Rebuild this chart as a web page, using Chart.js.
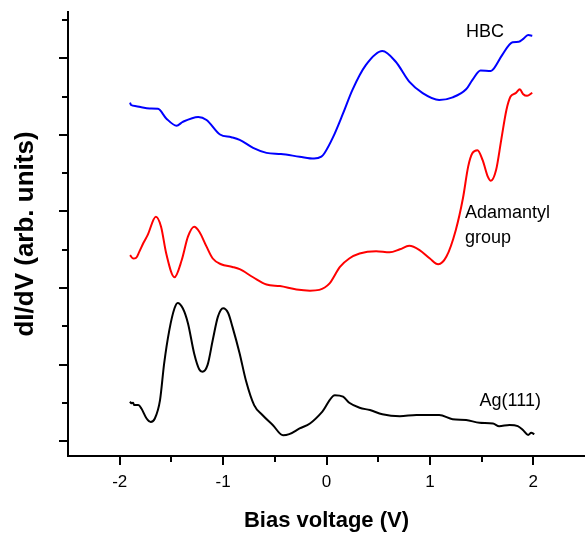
<!DOCTYPE html>
<html>
<head>
<meta charset="utf-8">
<script src="https://cdn.jsdelivr.net/npm/chart.js@4/dist/chart.umd.min.js"></script>
<style>
  html, body { margin: 0; padding: 0; background: #fff; overflow: hidden; }
  canvas { display: block; }
</style>
</head>
<body>
<canvas id="chart-sts" width="585" height="535"></canvas>
<script>
// HBC (blue)
const hbcX = [-1.90,-1.89,-1.84,-1.79,-1.71,-1.63,-1.55,-1.45,-1.39,-1.24,-1.16,-1.03,-0.92,-0.84,-0.71,-0.58,-0.44,-0.26,-0.12,-0.05,-0.02,0.06,0.16,0.25,0.38,0.54,0.67,0.80,0.93,1.09,1.22,1.35,1.41,1.49,1.59,1.62,1.70,1.80,1.86,1.90,1.95,1.99];
const hbcY = [8.84,8.78,8.75,8.72,8.69,8.68,8.43,8.24,8.34,8.47,8.39,8.01,7.94,7.87,7.66,7.53,7.50,7.43,7.38,7.43,7.52,7.92,8.56,9.17,9.82,10.19,9.91,9.39,9.09,8.91,8.98,9.19,9.43,9.68,9.67,9.74,10.09,10.42,10.43,10.50,10.61,10.59];

// Adamantyl group (red)
const adaX = [-1.90,-1.87,-1.84,-1.81,-1.77,-1.73,-1.65,-1.60,-1.55,-1.47,-1.40,-1.34,-1.28,-1.23,-1.16,-1.10,-1.02,-0.91,-0.84,-0.71,-0.58,-0.45,-0.29,-0.16,-0.07,0.03,0.13,0.22,0.32,0.48,0.61,0.71,0.80,0.90,1.00,1.08,1.16,1.25,1.32,1.37,1.41,1.46,1.51,1.56,1.59,1.64,1.69,1.74,1.78,1.83,1.87,1.90,1.94,1.99];
const adaY = [4.86,4.77,4.79,4.95,5.18,5.38,5.86,5.60,4.90,4.28,4.73,5.34,5.60,5.47,5.08,4.77,4.62,4.55,4.49,4.28,4.09,4.05,3.96,3.93,3.95,4.12,4.55,4.77,4.90,4.96,4.93,5.01,5.10,4.99,4.77,4.62,4.82,5.51,6.35,7.17,7.52,7.60,7.34,6.91,6.80,7.08,7.87,8.65,9.00,9.09,9.19,9.07,9.02,9.10];

// Ag(111) (black)
const agX = [-1.90,-1.89,-1.87,-1.86,-1.82,-1.79,-1.74,-1.70,-1.66,-1.61,-1.57,-1.52,-1.47,-1.44,-1.39,-1.34,-1.28,-1.23,-1.20,-1.15,-1.10,-1.05,-1.00,-0.95,-0.91,-0.84,-0.78,-0.70,-0.62,-0.52,-0.42,-0.36,-0.26,-0.16,-0.04,0.08,0.16,0.22,0.32,0.42,0.54,0.71,0.87,1.09,1.22,1.35,1.48,1.61,1.67,1.77,1.85,1.90,1.95,1.98,2.01];
const agY = [1.03,0.99,1.00,0.94,0.94,0.85,0.59,0.50,0.59,1.07,2.03,2.90,3.47,3.61,3.47,3.08,2.29,1.87,1.81,1.99,2.64,3.25,3.47,3.34,2.99,2.29,1.59,0.94,0.68,0.42,0.15,0.18,0.33,0.46,0.77,1.20,1.16,1.00,0.87,0.81,0.70,0.65,0.68,0.68,0.57,0.55,0.48,0.46,0.39,0.42,0.39,0.29,0.16,0.22,0.18];

const seriesNames = ['HBC', 'Adamantyl group', 'Ag(111)'];

// curve labels, anchored in data coordinates (left edge, text baseline)
const notes = [
  { lines: ['HBC'], x: 1.35, y: 10.56 },
  { lines: ['Adamantyl', 'group'], x: 1.34, y: 5.83 },
  { lines: ['Ag(111)'], x: 1.48, y: 0.92 },
];

const FONT = "'Liberation Sans', Arial, sans-serif";
const toPts = (xs, ys) => xs.map((x, i) => ({ x, y: ys[i] }));

// minor/major tick marks drawn on the scales' own tick values
const tickMarks = {
  id: 'tickMarks',
  afterDraw(chart) {
    const { ctx, scales: { x, y } } = chart;
    ctx.save();
    ctx.strokeStyle = '#000';
    ctx.lineWidth = 2;
    x.ticks.forEach(t => {
      if (t.value <= x.min || t.value >= x.max) return;
      const px = Math.round(x.getPixelForValue(t.value));
      const len = Number.isInteger(t.value) ? 9 : 6;
      ctx.beginPath();
      ctx.moveTo(px, x.top);
      ctx.lineTo(px, x.top + len);
      ctx.stroke();
    });
    y.ticks.forEach(t => {
      if (t.value < y.min || t.value > y.max) return;
      const py = Math.round(y.getPixelForValue(t.value));
      const len = t.value % 2 === 0 ? 9 : 6;
      ctx.beginPath();
      ctx.moveTo(y.right, py);
      ctx.lineTo(y.right - len, py);
      ctx.stroke();
    });
    ctx.restore();
  }
};

const curveNotes = {
  id: 'curveNotes',
  afterDraw(chart) {
    const { ctx, scales: { x, y } } = chart;
    ctx.save();
    ctx.fillStyle = '#000';
    ctx.font = '18px ' + FONT;
    ctx.textAlign = 'left';
    ctx.textBaseline = 'alphabetic';
    notes.forEach(n => {
      const px = x.getPixelForValue(n.x);
      const py = y.getPixelForValue(n.y);
      n.lines.forEach((line, i) => ctx.fillText(line, px, py + i * 25));
    });
    ctx.restore();
  }
};

const ctx = document.getElementById('chart-sts');
new Chart(ctx, {
  type: 'line',
  data: {
    datasets: [
      { label: seriesNames[0], data: toPts(hbcX, hbcY), borderColor: '#0000ff' },
      { label: seriesNames[1], data: toPts(adaX, adaY), borderColor: '#ff0000' },
      { label: seriesNames[2], data: toPts(agX, agY), borderColor: '#000000' },
    ]
  },
  options: {
    responsive: false,
    animation: false,
    layout: { padding: { top: 12, right: 0, left: 0, bottom: 0 }, autoPadding: false },
    elements: {
      line: { borderWidth: 2, fill: false, cubicInterpolationMode: 'monotone' },
      point: { radius: 0 }
    },
    plugins: {
      legend: { display: false },
      tooltip: { enabled: false }
    },
    scales: {
      x: {
        type: 'linear',
        min: -2.5,
        max: 2.5,
        afterFit: s => { s.height = 79; s.paddingLeft = 0; s.paddingRight = 0; },
        border: { display: true, color: '#000', width: 2 },
        // invisible tick band only spaces the labels; visible marks come from tickMarks
        grid: { display: true, drawOnChartArea: false, drawTicks: true, tickLength: 16, tickColor: 'rgba(0,0,0,0)' },
        ticks: {
          stepSize: 0.5,
          autoSkip: false,
          maxRotation: 0,
          padding: 0,
          color: '#000',
          font: { family: FONT, size: 17 },
          callback: v => (Number.isInteger(v) && Math.abs(v) < 2.5 ? String(v) : '')
        },
        title: {
          display: true,
          text: 'Bias voltage (V)',
          color: '#000',
          font: { family: FONT, size: 22, weight: 'bold' },
          padding: { top: 0, bottom: 1 }
        }
      },
      y: {
        type: 'linear',
        min: -0.39,
        max: 11.21,
        afterFit: s => { s.width = 68; },
        border: { display: true, color: '#000', width: 2 },
        grid: { display: true, drawOnChartArea: false, drawTicks: false },
        ticks: { stepSize: 1, includeBounds: false, display: false },
        title: {
          display: true,
          text: 'dI/dV (arb. units)',
          color: '#000',
          font: { family: FONT, size: 26, weight: 'bold' },
          padding: { top: 10, bottom: 0 }
        }
      }
    }
  },
  plugins: [tickMarks, curveNotes]
});
</script>
</body>
</html>
